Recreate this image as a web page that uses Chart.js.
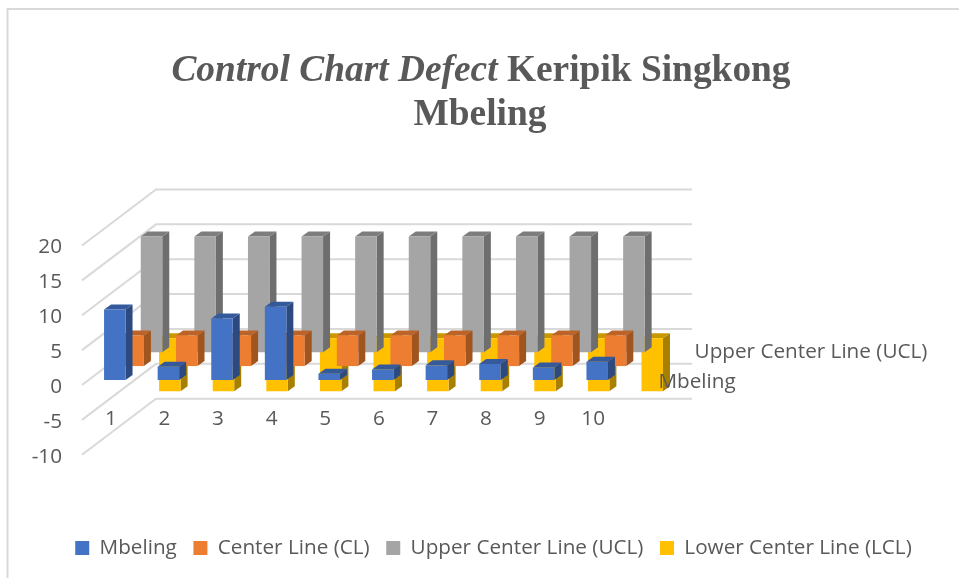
<!DOCTYPE html>
<html><head><meta charset="utf-8">
<style>html,body{margin:0;padding:0;background:#fff}#w{width:959px;height:578px}</style>
<script src="https://cdn.jsdelivr.net/npm/chart.js@4"></script>
</head><body><div id="w"><canvas id="c" width="959" height="578"></canvas></div>
<script>
const categories = ['1','2','3','4','5','6','7','8','9','10'];
const mbeling = [10.1,1.9,8.8,10.5,0.9,1.5,2.1,2.3,1.8,2.6];
const centerLine = [4.4,4.4,4.4,4.4,4.4,4.4,4.4,4.4,4.4,4.4];
const upperLine = [16.6,16.6,16.6,16.6,16.6,16.6,16.6,16.6,16.6,16.6];
const lowerLine = [-7.6,-7.6,-7.6,-7.6,-7.6,-7.6,-7.6,-7.6,-7.6,-7.6];
const seriesNames = ['Mbeling','Center Line (CL)','Upper Center Line (UCL)','Lower Center Line (LCL)'];
const yTicks = [20,15,10,5,0,-5,-10];

const TEXT='#595959', GRID='#d9d9d9', FONT='"Open Sans"', FS=20.7;
const faces=[['#4472C4','#345A9C','#2C4A80'],['#ED7D31','#BB6328','#A0541E'],['#A5A5A5','#7D7D7D','#6E6E6E'],['#FFC000','#C99800','#A88000']];
const WALL_DX=74, WALL_DY=-56, BAR_DX=7, BAR_DY=-5;
const depthX=d=>6+18.35*d, depthY=d=>-5-13.9*d;

function poly(ctx,p,color){ctx.fillStyle=color;ctx.beginPath();p.forEach((q,i)=>i?ctx.lineTo(q[0],q[1]):ctx.moveTo(q[0],q[1]));ctx.closePath();ctx.fill();}

const plugin3d={
 id:'plugin3d',
 afterLayout(chart){const l=chart.legend;l.left+=14;l.right+=14;const h=l.bottom-l.top;l.top=521;l.bottom=521+h;},
 beforeDraw(chart){
  const c=chart.ctx;c.save();
  c.strokeStyle=GRID;c.lineWidth=2;
  c.beginPath();c.moveTo(7.5,578);c.lineTo(7.5,9);c.lineTo(959,9);c.stroke();
  c.fillStyle=TEXT;c.textBaseline='alphabetic';c.textAlign='left';
  const TF='37.4px "Liberation Serif"';
  const a='Control Chart Defect',b=' Keripik Singkong';
  c.font='italic bold '+TF;const wa=c.measureText(a).width;
  c.font='bold '+TF;const wb=c.measureText(b).width;
  const x0=481-(wa+wb)/2;
  c.font='italic bold '+TF;c.fillText(a,x0,81);
  c.font='bold '+TF;c.fillText(b,x0+wa,81);
  c.textAlign='center';c.fillText('Mbeling',480,125);
  c.restore();
 },
 beforeDatasetsDraw(chart){
  const c=chart.ctx,y=chart.scales.y,a=chart.chartArea;c.save();
  c.strokeStyle=GRID;c.lineWidth=2;
  yTicks.forEach(v=>{const p=y.getPixelForValue(v);c.beginPath();c.moveTo(a.left,p);c.lineTo(a.left+WALL_DX,p+WALL_DY);c.lineTo(a.right+WALL_DX,p+WALL_DY);c.stroke();});
  c.restore();
 },
 beforeDatasetDraw(chart,args){
  const c=chart.ctx,d=args.index,f=faces[d];c.save();
  args.meta.data.forEach(el=>{
   const p=el.getProps(['x','y','base','width'],true);
   const l=p.x-p.width/2+depthX(d),r=l+p.width,t=Math.min(p.y,p.base)+depthY(d),b=Math.max(p.y,p.base)+depthY(d);
   poly(c,[[r,t],[r+BAR_DX,t+BAR_DY],[r+BAR_DX,b+BAR_DY],[r,b]],f[2]);
   poly(c,[[l,t],[l+BAR_DX,t+BAR_DY],[r+BAR_DX,t+BAR_DY],[r,t]],f[1]);
   poly(c,[[l,t],[r,t],[r,b],[l,b]],f[0]);
  });
  c.restore();return false;
 },
 afterDatasetsDraw(chart){
  const c=chart.ctx;c.save();c.fillStyle=TEXT;c.font=FS+'px '+FONT;c.textAlign='center';c.textBaseline='middle';
  c.fillText(seriesNames[2],811,352);c.fillText(seriesNames[0],697,382);c.restore();
 }
};
const values=[mbeling,centerLine,upperLine,lowerLine];
new Chart(document.getElementById('c'),{
 type:'bar',
 data:{labels:categories,datasets:seriesNames.map((n,i)=>({label:n,data:values[i],backgroundColor:faces[i][0],borderWidth:0,barThickness:21.5,grouped:false}))},
 plugins:[plugin3d],
 options:{
  responsive:false,animation:false,
  layout:{padding:{top:245.5,left:0,right:0,bottom:76}},
  plugins:{title:{display:false},tooltip:{enabled:false},
   legend:{position:'bottom',labels:{boxWidth:14,boxHeight:14,padding:16.6,color:TEXT,font:{family:FONT,size:FS}}}},
  scales:{
   x:{grid:{display:false},border:{display:false},ticks:{color:TEXT,font:{family:FONT,size:FS},maxRotation:0,mirror:true,padding:23,labelOffset:2,autoSkip:false},afterFit:s=>{s.height=0;}},
   y:{min:-10,max:20,grid:{display:false},border:{display:false},afterBuildTicks:s=>{s.ticks=yTicks.map(v=>({value:v}));},ticks:{color:TEXT,font:{family:FONT,size:FS},padding:12,labelOffset:2},afterFit:s=>{s.width=82;}},
   spacer:{position:'right',display:true,grid:{display:false},border:{display:false},ticks:{display:false},afterFit:s=>{s.width=341;}}
  }
 }
});
</script></body></html>
